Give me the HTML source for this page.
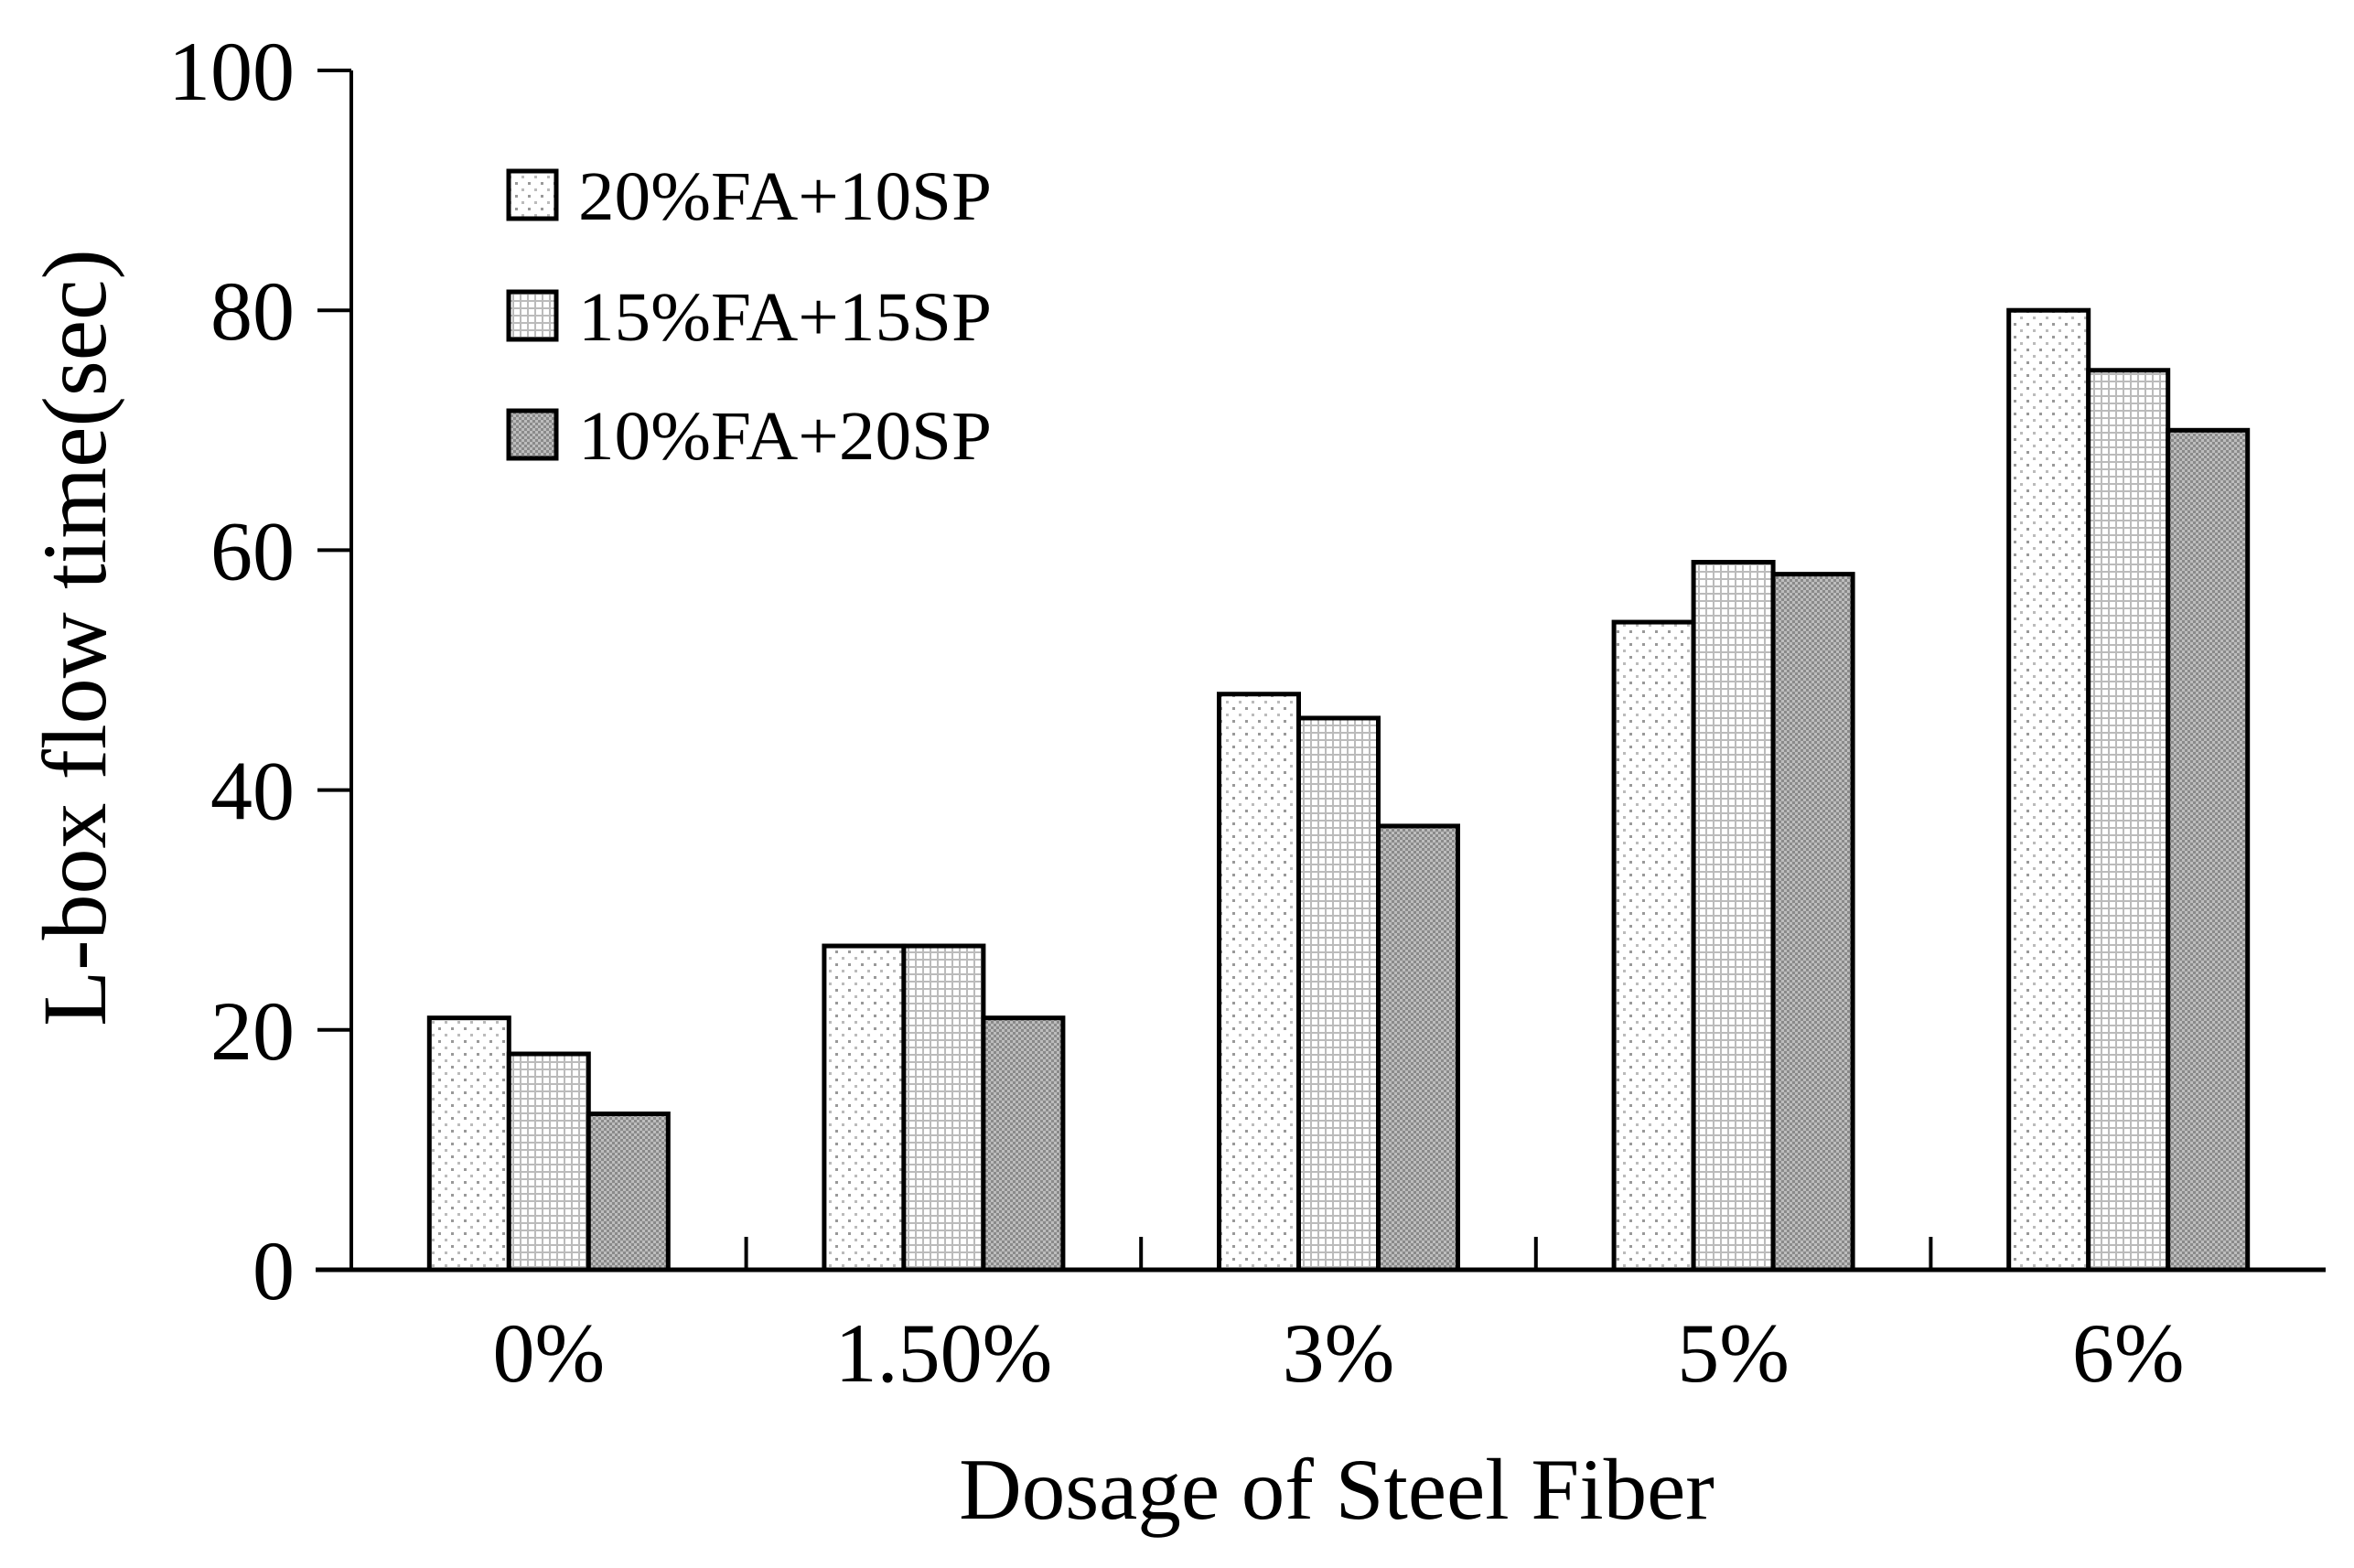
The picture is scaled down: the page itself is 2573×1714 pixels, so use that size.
<!DOCTYPE html>
<html><head><meta charset="utf-8"><style>body{margin:0;background:#fff}svg{display:block}text{font-family:"Liberation Serif",serif;fill:#000}</style></head>
<body>
<svg id="chart" width="2573" height="1714" viewBox="0 0 2573 1714" xmlns="http://www.w3.org/2000/svg">
<defs>
<pattern id="pDots" width="14" height="14" patternUnits="userSpaceOnUse"><rect width="14" height="14" fill="#fff"/><rect x="3" y="3" width="3" height="3" fill="#999"/><rect x="10" y="10" width="3" height="3" fill="#bbb"/></pattern>
<pattern id="pGrid" width="8" height="8" patternUnits="userSpaceOnUse"><rect width="8" height="8" fill="#fff"/><rect x="0" y="0" width="2" height="8" fill="#bbb"/><rect x="0" y="0" width="8" height="2" fill="#bbb"/></pattern>
<pattern id="pDark" width="6" height="6" patternUnits="userSpaceOnUse"><rect width="6" height="6" fill="#8a8a8a"/><rect x="0" y="0" width="3" height="3" fill="#bdbdbd"/><rect x="3" y="3" width="3" height="3" fill="#bdbdbd"/></pattern>
</defs>
<g id="bars"></g>
<g id="axes"></g>
<text x="1461" y="1660" font-size="95" text-anchor="middle">Dosage of Steel Fiber</text>
<text transform="translate(115,697) rotate(-90)" font-size="100" text-anchor="middle">L-box flow time(sec)</text>
<g id="legend"></g>
</svg>
<script>
const categories = ["0%", "1.50%", "3%", "5%", "6%"];
const seriesNames = ["20%FA+10SP", "15%FA+15SP", "10%FA+20SP"];
const s1 = [21, 27, 48, 54, 80];
const s2 = [18, 27, 46, 59, 75];
const s3 = [13, 21, 37, 58, 70];
const yTicks = [0, 20, 40, 60, 80, 100];

const NS = "http://www.w3.org/2000/svg";
const X0 = 384, X1 = 2542, Y0 = 1388, Y1 = 77;
const fills = ["url(#pDots)", "url(#pGrid)", "url(#pDark)"];
const series = [s1, s2, s3];
const band = (X1 - X0) / categories.length;
const barW = 87;
function y(v){ return Y0 - (v / 100) * (Y0 - Y1); }
function xc(i){ return X0 + band * (i + 0.5); }
function mk(tag, attrs, parent){ const e = document.createElementNS(NS, tag); for (const k in attrs) e.setAttribute(k, attrs[k]); parent.appendChild(e); return e; }

const bars = document.getElementById('bars');
series.forEach((s, si) => {
  s.forEach((v, i) => {
    const r = mk('rect', {x: xc(i) - 1.5 * barW + si * barW, y: y(v), width: barW, height: Y0 - y(v), fill: fills[si], stroke: '#000', 'stroke-width': 5}, bars);
    
    
  });
});

const axes = document.getElementById('axes');
const yl = mk('line', {x1: X0, y1: Y1, x2: X0, y2: Y0, stroke: '#000', 'stroke-width': 4}, axes);


const xl = mk('line', {x1: 345, y1: Y0, x2: X1, y2: Y0, stroke: '#000', 'stroke-width': 5}, axes);


yTicks.forEach(t => {
  const l = mk('line', {x1: 347, y1: y(t), x2: X0, y2: y(t), stroke: '#000', 'stroke-width': 4}, axes);
  
  
  const tx = mk('text', {x: 322, y: y(t) + 32, 'font-size': 92, 'text-anchor': 'end'}, axes);
  tx.textContent = t;
  
  
});
for (let i = 1; i < categories.length; i++) {
  const l = mk('line', {x1: X0 + band * i, y1: Y0 - 36, x2: X0 + band * i, y2: Y0, stroke: '#000', 'stroke-width': 4}, axes);
  
  
}
categories.forEach((c, i) => {
  const tx = mk('text', {x: xc(i), y: 1510, 'font-size': 92, 'text-anchor': 'middle'}, axes);
  tx.textContent = c;
  
  
});

const legend = document.getElementById('legend');
const ly = [213, 345, 475];
seriesNames.forEach((n, si) => {
  const r = mk('rect', {x: 556, y: ly[si] - 26, width: 52, height: 52, fill: fills[si], stroke: '#000', 'stroke-width': 5}, legend);
  
  
  const tx = mk('text', {x: 632, y: ly[si] + 27, 'font-size': 76, textLength: 452, lengthAdjust: 'spacingAndGlyphs'}, legend);
  tx.textContent = n;
  
  
});
</script>
</body></html>
